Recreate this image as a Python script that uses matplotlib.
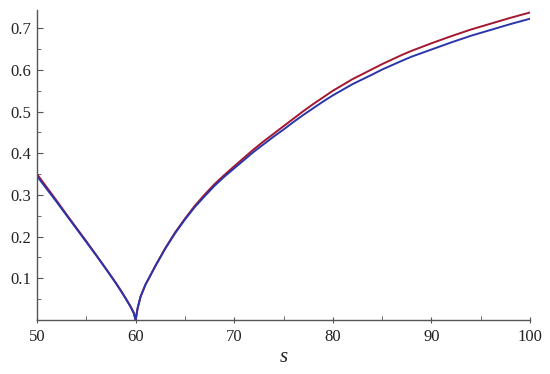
import matplotlib
matplotlib.use("Agg")
import matplotlib.pyplot as plt
from matplotlib.ticker import MultipleLocator

# values
s_left = [50, 51, 52, 53, 54, 55, 56, 57, 58, 58.5, 59, 59.5, 59.8, 60]
red_left = [0.350, 0.318, 0.286, 0.253, 0.221, 0.189, 0.156, 0.123, 0.089, 0.071, 0.052, 0.032, 0.018, 0.0]
blue_left = [0.345, 0.314, 0.283, 0.251, 0.219, 0.187, 0.155, 0.122, 0.088, 0.070, 0.051, 0.031, 0.017, 0.0]

s_right = [60, 60.2, 60.5, 61, 61.5, 62, 63, 64, 65, 66, 67, 68, 69, 70, 72, 73, 74, 75, 76, 77, 78,
           79, 80, 82, 84, 85, 87, 88, 90, 92, 94, 95, 96, 98, 100]
red_right = [0.0, 0.028, 0.056, 0.085, 0.107, 0.130, 0.172, 0.210, 0.243, 0.274, 0.301, 0.326, 0.348,
             0.369, 0.410, 0.429, 0.447, 0.465, 0.483, 0.501, 0.518, 0.534, 0.550, 0.578, 0.602,
             0.614, 0.636, 0.646, 0.664, 0.681, 0.697, 0.704, 0.711, 0.725, 0.738]
blue_right = [0.0, 0.028, 0.056, 0.085, 0.107, 0.129, 0.171, 0.208, 0.241, 0.271, 0.297, 0.322, 0.344,
              0.364, 0.404, 0.422, 0.440, 0.457, 0.475, 0.492, 0.508, 0.524, 0.539, 0.566, 0.589,
              0.601, 0.622, 0.632, 0.649, 0.666, 0.682, 0.689, 0.696, 0.710, 0.723]

x_ticks = [50, 60, 70, 80, 90, 100]
y_ticks = [0.1, 0.2, 0.3, 0.4, 0.5, 0.6, 0.7]

plt.rcParams['font.family'] = 'serif'
plt.rcParams['font.serif'] = ['Liberation Serif']

fig = plt.figure(figsize=(5.5, 3.74), dpi=100)
ax = fig.add_axes([0.0673, 0.1444, 0.8964, 0.829])

red = "#a3172f"
blue = "#2a35ab"
ax.plot(s_left + s_right[1:], red_left + red_right[1:], color=red, lw=1.4)
ax.plot(s_left + s_right[1:], blue_left + blue_right[1:], color=blue, lw=1.4)

ax.set_xlim(50, 100)
ax.set_ylim(0, 0.744)
ax.set_xticks(x_ticks)
ax.set_yticks(y_ticks)
ax.set_yticklabels([f"{v:.1f}" for v in y_ticks])
ax.xaxis.set_minor_locator(MultipleLocator(5))
ax.yaxis.set_minor_locator(MultipleLocator(0.05))

for side in ["top", "right"]:
    ax.spines[side].set_visible(False)
for side in ["left", "bottom"]:
    ax.spines[side].set_color("#555555")
    ax.spines[side].set_linewidth(1.0)

ax.tick_params(which="both", direction="in", colors="#555555", labelcolor="#222222", labelsize=12)
ax.tick_params(which="major", length=4)
ax.tick_params(which="minor", length=3)
ax.tick_params(axis="x", which="major", direction="inout", length=5, pad=4)
ax.tick_params(axis="y", which="major", pad=4)

ax.set_xlabel("s", fontsize=15, fontstyle="italic", color="#222222", labelpad=2)

fig.savefig("out.png", dpi=100)
